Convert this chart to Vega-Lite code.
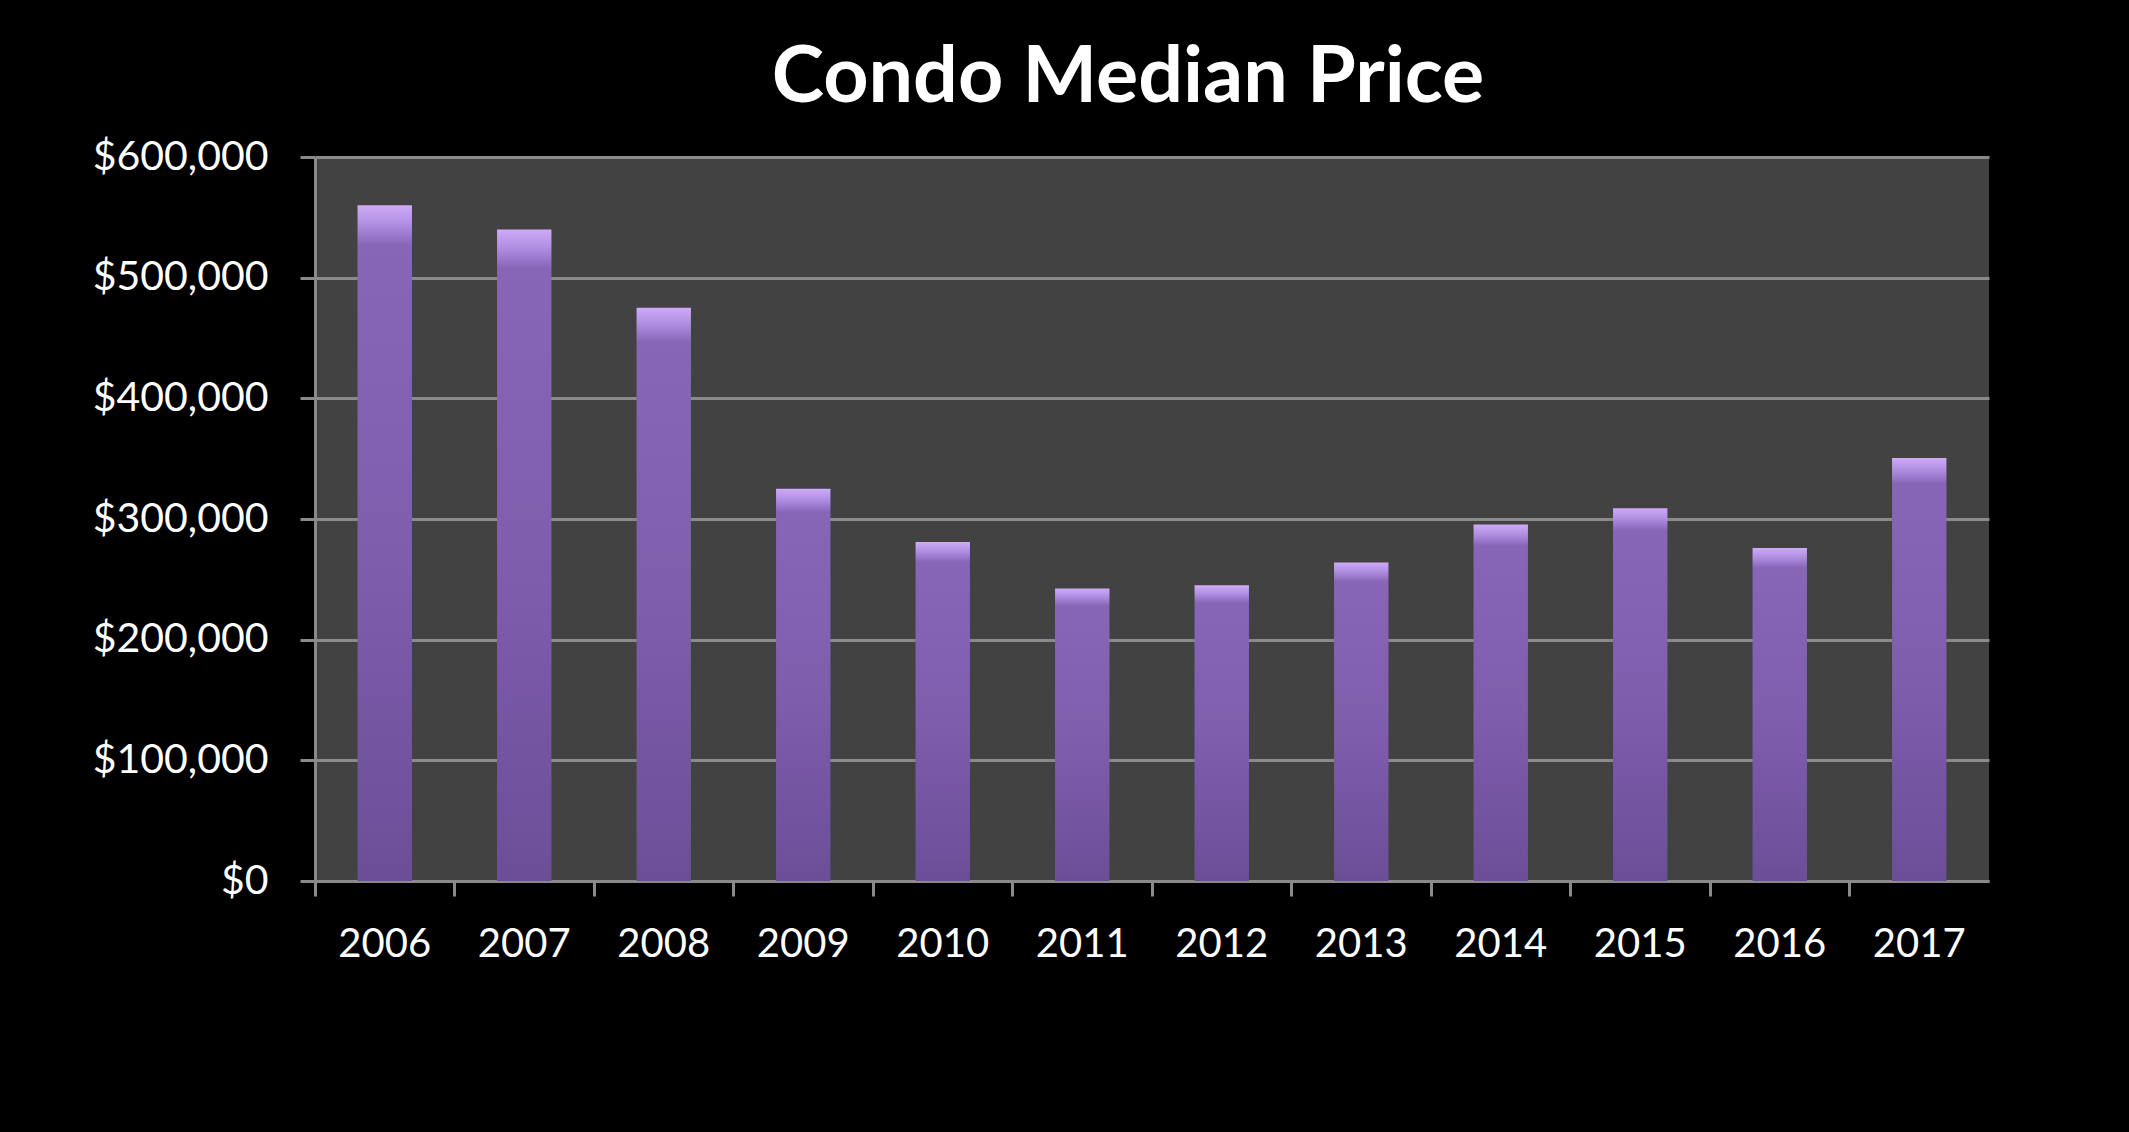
{
  "$schema": "https://vega.github.io/schema/vega-lite/v6.json",
  "width": 1674,
  "height": 724,
  "autosize": "none",
  "padding": {"left": 315, "top": 157, "right": 140, "bottom": 251},
  "background": "#000000",
  "title": {
    "text": "Condo Median Price",
    "font": "Lato",
    "fontWeight": "bold",
    "fontSize": 79,
    "color": "#ffffff",
    "anchor": "middle",
    "frame": "group",
    "baseline": "alphabetic",
    "offset": -45,
    "dx": -24
  },
  "config": {
    "view": {"fill": "#424242", "stroke": null}
  },
  "data": {
    "values": [
      {"year": "2006", "price": 560000},
      {"year": "2007", "price": 540000},
      {"year": "2008", "price": 475000},
      {"year": "2009", "price": 325000},
      {"year": "2010", "price": 281000},
      {"year": "2011", "price": 242500},
      {"year": "2012", "price": 245000},
      {"year": "2013", "price": 264000},
      {"year": "2014", "price": 295500},
      {"year": "2015", "price": 309000},
      {"year": "2016", "price": 276000},
      {"year": "2017", "price": 350500}
    ]
  },
  "mark": {
    "type": "bar",
    "width": {"band": 0.39},
    "fill": {
      "gradient": "linear",
      "x1": 0, "y1": 0, "x2": 0, "y2": 1,
      "stops": [
        {"offset": 0, "color": "#cfabf8"},
        {"offset": 0.03, "color": "#ad8ce0"},
        {"offset": 0.06, "color": "#8766b8"},
        {"offset": 0.5, "color": "#7f5eae"},
        {"offset": 1, "color": "#6c4e98"}
      ]
    }
  },
  "encoding": {
    "x": {
      "field": "year",
      "type": "ordinal",
      "title": null,
      "scale": {"paddingInner": 0, "paddingOuter": 0},
      "axis": {
        "bandPosition": 0,
        "labelAngle": 0,
        "labelFont": "Lato",
        "labelFontSize": 40,
        "labelColor": "#ffffff",
        "labelPadding": 28,
        "tickSize": 15,
        "tickWidth": 3,
        "tickColor": "#8a8a8a",
        "domainColor": "#8a8a8a",
        "domainWidth": 3,
        "grid": false
      }
    },
    "y": {
      "field": "price",
      "type": "quantitative",
      "title": null,
      "scale": {"domain": [0, 600000], "nice": false},
      "axis": {
        "values": [0, 100000, 200000, 300000, 400000, 500000, 600000],
        "format": "$,.0f",
        "labelFont": "Lato",
        "labelFontSize": 41,
        "labelColor": "#ffffff",
        "labelPadding": 32,
        "tickSize": 15,
        "tickWidth": 3,
        "tickColor": "#8a8a8a",
        "domainColor": "#8a8a8a",
        "domainWidth": 3,
        "grid": true,
        "gridColor": "#8a8a8a",
        "gridWidth": 3,
        "gridOpacity": 1
      }
    }
  }
}
